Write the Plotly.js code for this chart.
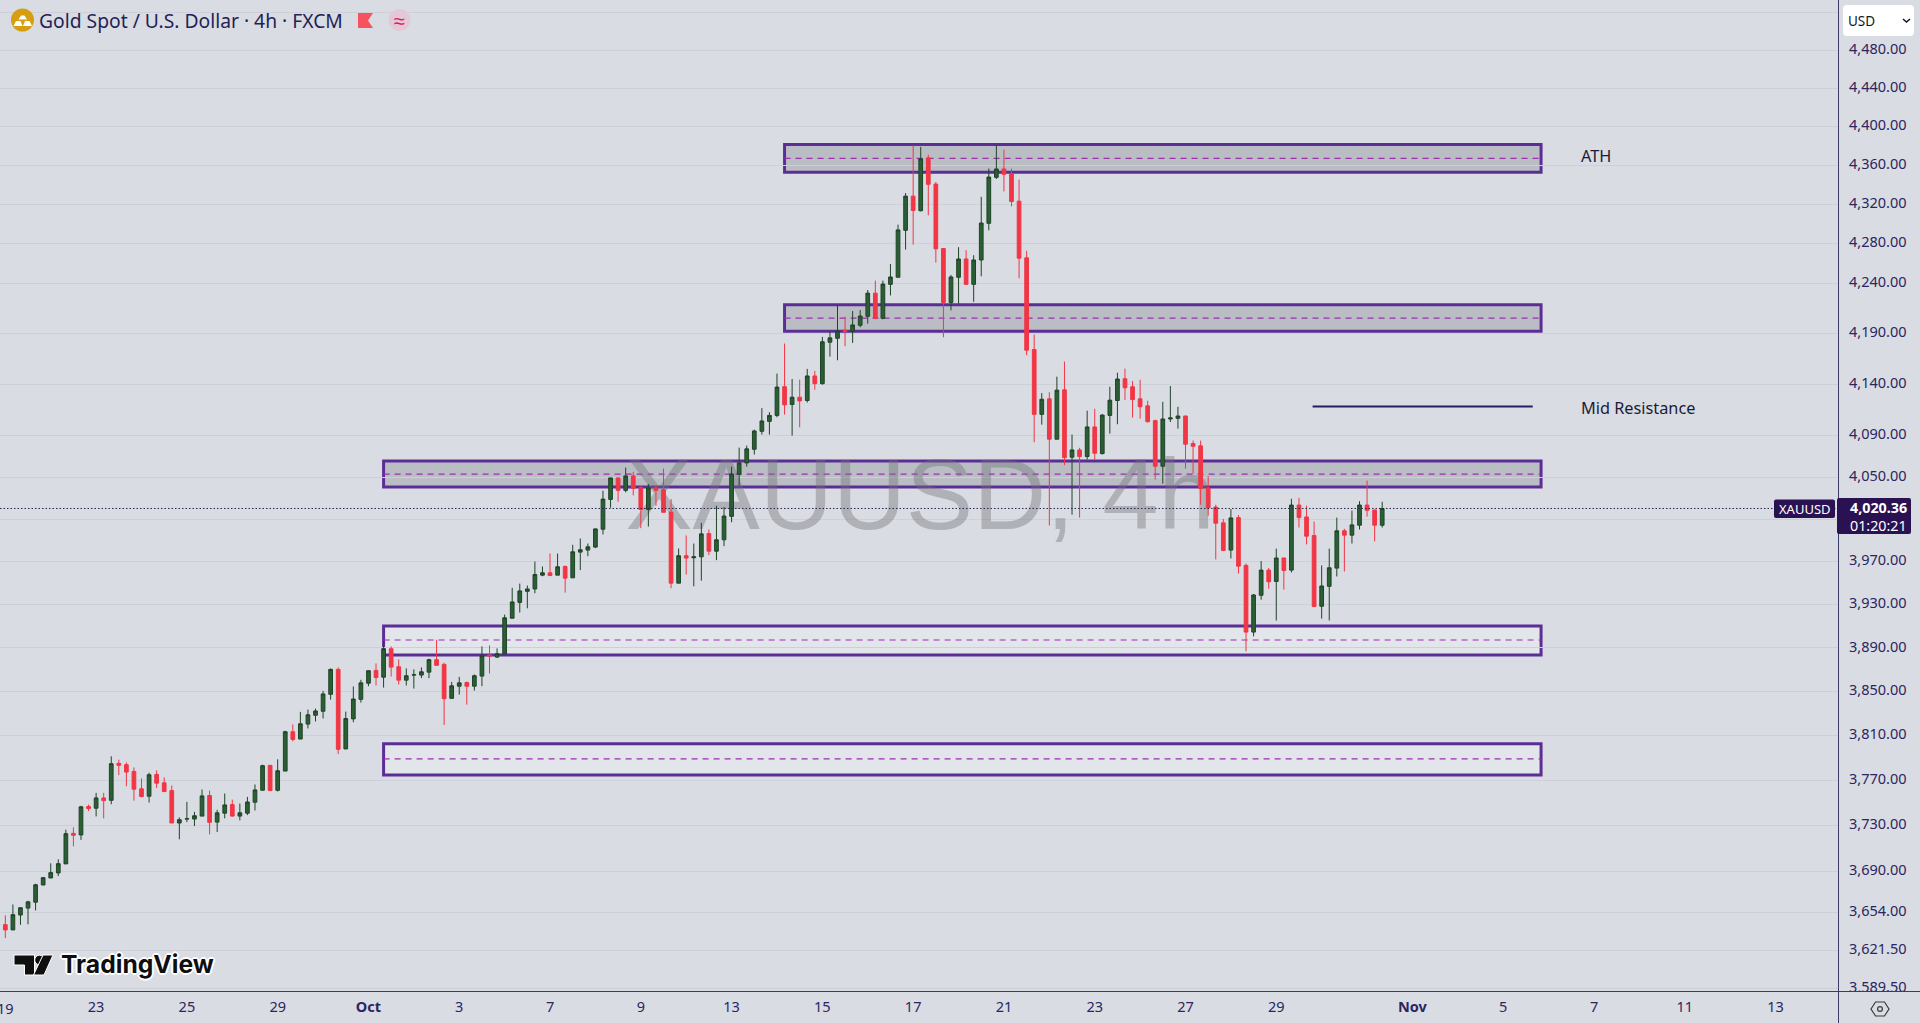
<!DOCTYPE html>
<html>
<head>
<meta charset="utf-8">
<script src="https://cdn.plot.ly/plotly-3.0.1.min.js"></script>
<style>html,body{margin:0;padding:0;background:#d9dce2;overflow:hidden}#c{width:1920px;height:1023px}</style>
</head>
<body>
<div id="c"></div>
<script>
// 4h candles, first bar is the one just before Sep 19
const barIndex = Array.from({length:184},(_,k)=>k-1);
const open = [3643.5,3643.7,3639.2,3652,3658,3663.1,3678,3684.1,3688.5,3696.4,3723.2,3721.8,3746.9,3745.4,3754.5,3752.4,3785.3,3784.1,3778.1,3762.6,3756,
3775.4,3767.9,3761,3732.3,3735.8,3735.8,3738.4,3756.6,3733.1,3741,3748.6,3738.4,3741,3750.7,3761.3,3783.5,3761.3,3778.4,3813.7,3807.1,
3820.6,3828.6,3832.2,3847.6,3870.3,3798.2,3825.3,3843,3857.7,3869.4,3863.2,3889.3,3872.7,3860.5,3865.1,3865.1,3867.8,3879.2,3874.9,3843.9,
3855,3858.3,3855,3864.2,3883.4,3881.6,3884.4,3917.4,3932.1,3942.4,3944.6,3957.5,3959.7,3957.5,3965.6,3955,3979.1,3981,3983.8,4000.7,
4029,4049.5,4037.6,4051.4,4040.2,4019.5,4039.9,4038.2,4017,3950,3975.7,3973.8,3974.7,3996.6,3980,3990.7,4012.9,4053,4063.9,4077,
4094.4,4104,4109.8,4137.8,4120.4,4127.5,4124.3,4148.3,4140.7,4181.5,4185.4,4193.3,4192.3,4198.3,4207.2,4230.3,4205.2,4239.1,4246.2,4293.6,
4328.4,4313.5,4367.7,4340.8,4275.1,4221,4246.2,4264.6,4239.1,4263.6,4300.7,4347.7,4356.3,4351.5,4323.3,4265.7,4174.3,4110.8,4125.9,4086.7,
4134.7,4069.4,4076.4,4070,4098.6,4072.9,4109.8,4124.3,4145.6,4137.7,4125.9,4119.1,4104.7,4060.7,4106.3,4107,4109.2,4082.5,4080.3,4039.8,
4021.7,4006.7,3981,4011.7,3966.6,3904.6,3938.7,3962.2,3951.6,3973.6,3962.2,4023.6,4012.3,3994.8,3928.5,3947.1,3964.1,3999.2,3995.1,4004.5,
4023.6,4018.9,4004.5];
const high = [3646,3651.7,3661.1,3658.6,3664.3,3679.1,3685,3696.9,3700.4,3726.4,3728.5,3747.5,3748.6,3759,3759,3791.6,3788.6,3786.2,3781.7,3771.8,3776.9,
3779,3772.7,3765.5,3737.2,3751,3742.2,3762,3761,3743.9,3758.4,3753,3749.5,3755.4,3766.4,3784.1,3783.5,3788.9,3814.6,3820.3,3831.6,
3833.7,3834.6,3850.7,3871.2,3872.1,3831.9,3854.7,3860.8,3869.4,3875.8,3896.3,3891.4,3879.5,3871.2,3870.3,3872.1,3880.1,3897.5,3876.4,3858.9,
3863.5,3859.2,3865.7,3891.4,3892.3,3889.6,3920.8,3945.6,3949.6,3947.8,3970.3,3965.6,3977.8,3977.8,3966.6,3986,3991.9,3987.2,4001.3,4037.3,
4049.5,4049.5,4059.4,4055.3,4041.5,4043.7,4041.8,4058.5,4029.3,3982.5,3994.8,3987.2,4006.7,4000.4,4023,4021.7,4060.3,4078.6,4080.6,4096,
4116.9,4113,4150.6,4180.2,4145.3,4144.7,4155.2,4153.2,4186.8,4192.3,4218,4206.8,4212.4,4213.4,4233.4,4242.8,4242.8,4259.6,4299.3,4331.5,
4380.8,4379.1,4371.1,4342.9,4275.5,4248.5,4276.5,4273.5,4268.4,4327.7,4356.7,4380.8,4376.3,4356.7,4345.3,4272.8,4189,4131.5,4132.4,4147.6,
4162.4,4091.2,4078.4,4114.3,4116.2,4111.1,4137.7,4151.5,4155.5,4143.3,4144.6,4124,4105.7,4123,4138.4,4118.2,4109.5,4085.4,4085.4,4051,
4023.9,4010.4,4019.8,4014.2,3968.4,3939.9,3970.7,3964.2,3982.4,3973.6,4029.6,4030.5,4023,4007.9,3966.6,3982.4,4011.7,4001.1,4018.3,4027.3,
4046.9,4019.2,4026.7];
const low = [3642,3632.1,3639.2,3643.5,3644,3656,3678,3684.1,3685.8,3696.4,3711.8,3717.4,3742.8,3738.1,3736.4,3748.9,3774.8,3764.9,3752.1,3755.1,3750.4,
3763.2,3759.6,3732.3,3718,3733.1,3729.6,3738.4,3722.3,3724.4,3736.4,3738.1,3734.6,3739.3,3743.4,3761.3,3761,3760.2,3778.4,3805,3807.1,
3816.7,3823,3825.7,3842.7,3793.7,3798.2,3822.3,3840,3855,3855.6,3853.7,3863.8,3856.5,3855.6,3852.8,3862.3,3862.3,3874,3819.7,3843.9,
3847.3,3838.2,3851,3855,3866.6,3880.7,3884.4,3917.4,3922.7,3926.6,3940.6,3956.5,3956.5,3957.5,3941.2,3955,3962.2,3975.3,3982.9,3995.7,
4021.1,4026.7,4035.7,4032.8,4001.7,4003.2,4023,4016.7,3945.3,3950,3958.1,3947.1,3952.4,3976.3,3971.6,3984.7,4007.3,4042.1,4060.3,4071.9,
4091.2,4091.2,4107.9,4110.5,4090.2,4098.2,4122.3,4134.8,4139.8,4167.3,4163.7,4177.5,4180.8,4196.3,4199.9,4204.2,4204.2,4228,4246.2,4274.1,
4279.1,4312.8,4308.8,4260.9,4186.4,4213.1,4219.7,4238.8,4221.6,4247.2,4293.6,4346,4333.2,4317.9,4245.2,4168.7,4083.8,4100.8,4004.2,4086.7,
4061.7,4014.5,4011.7,4067.1,4066.8,4071.9,4092.2,4101.2,4124.9,4107.6,4106.6,4102.8,4047.9,4044,4103.4,4097,4058.4,4053.6,4023.9,4013.5,
3972.2,3980,3973.1,3959,3886.8,3900.6,3934.6,3944.7,3915.3,3944,3960,4002.3,3986.3,3928.2,3917.1,3915.3,3956.3,3960.9,3987.2,4000.4,
4012.6,3989.2,4002.3];
const close = [3644,3639.2,3652.3,3658.3,3663.4,3678.2,3684.4,3688.8,3696.6,3722.9,3721.5,3746.6,3745.1,3754.5,3752.1,3785,3783.5,3777.5,3762.3,3755.7,3775.1,
3767.6,3760.2,3732.3,3735.2,3736.1,3738.7,3756.3,3732.9,3741.3,3748.3,3738.4,3741.3,3750.9,3761.6,3783.2,3761,3778.7,3813.7,3806.8,3820.9,
3829,3832.5,3847.9,3870.3,3797.9,3825.6,3843.3,3858,3869.1,3862.9,3889.3,3872.4,3860.5,3864.5,3865.4,3868.1,3879.2,3874,3843.6,3855.3,
3858,3855,3864.5,3882.8,3882.5,3884.7,3917.8,3932.5,3942.8,3944.6,3958.1,3959.7,3957.2,3965.3,3954.7,3979.4,3981.3,3984.1,4001,4029.3,
4049.5,4037.6,4051.4,4039.5,4019.5,4039.9,4037.6,4016.7,3950,3975.7,3973.5,3974.7,3996.3,3980,3990.7,4013.2,4053.3,4063.9,4077.4,4094.7,
4104.4,4109.8,4137.4,4120.1,4127.5,4123.9,4148.3,4140.7,4181.9,4185.8,4192.7,4192.3,4198.6,4207.5,4230.3,4205.2,4239.4,4246.5,4294,4328.4,
4313.8,4366.7,4340.5,4274.8,4221,4246.5,4264.6,4239.1,4263.6,4301,4348,4356.3,4350.8,4322.9,4265.4,4173.6,4110.8,4125.5,4086.7,4134.4,
4069,4076.4,4070,4098.6,4073.2,4110.1,4124.6,4145.3,4136.7,4125.2,4118.2,4103.7,4060.7,4106.3,4107.3,4109.2,4081.9,4080,4039.5,4021,
4006.4,3980.7,4011.4,3965.9,3904.6,3939,3962.2,3951.3,3973.6,3961.9,4023.6,4011.7,3994.1,3928.2,3947.4,3964.4,3999.2,3995.1,4004.8,4023.6,
4018.6,4004.5,4020.36];

const yTickVals = [4520,4480,4440,4400,4360,4320,4280,4240,4190,4140,4090,4050,4010,3970,3930,3890,3850,3810,3770,3730,3690,3654,3621.5,3589.5];
const yTickText = ["","4,480.00","4,440.00","4,400.00","4,360.00","4,320.00","4,280.00","4,240.00","4,190.00","4,140.00","4,090.00","4,050.00","","3,970.00","3,930.00","3,890.00","3,850.00","3,810.00","3,770.00","3,730.00","3,690.00","3,654.00","3,621.50","3,589.50"];
const xTickVals = [12,24,36,48,60,72,84,96,108,120,132,144,156,168,186,198,210,222,234];
const xTickText = ["23","25","29","<b>Oct</b>","3","7","9","13","15","17","21","23","27","29","<b>Nov</b>","5","7","11","13"];

// zones: [low, mid, high, left bar, right bar]
const zoneLow  = [4352.9,4192.4,4040.7,3883.5,3775];
const zoneMid  = [4367.3,4205.3,4053.2,3897.3,3789.3];
const zoneHigh = [4381.6,4218.6,4065.7,3910.2,3802.8];
const zoneLeft = [103,103,50,50,50];
const zoneRight = 203;
const midResistance = 4118.5;
const lastPrice = 4020.36;

const W=1920,H=1023,PW=1838,PH=991;
const yMin=3587, yMax=4533.8;
const xMin=-0.705, xMax=242.25;
const yRange=[Math.log10(yMin),Math.log10(yMax)];
// label axis sits a pixel and a half above the grid axis, as the reference labels do
const labelShift=1.5/PH*(yRange[1]-yRange[0]);
const yLabelRange=[yRange[0]-labelShift,yRange[1]-labelShift];
const px=x=>x/PW, py=y=>1-y/PH;
const poly=(pts,close)=>pts.map((p,i)=>(i?'L':'M')+px(p[0])+','+py(p[1])).join(' ')+(close?' Z':'');
const INK='#2b2560', AX='#3c3a68', PURPLE='#5b2e96';

const paperShape=(o)=>Object.assign({xref:'paper',yref:'paper',layer:'above'},o);
const rectP=(x0,y0,x1,y1,fill,extra)=>paperShape(Object.assign({type:'rect',x0:px(x0),x1:px(x1),y0:py(y0),y1:py(y1),fillcolor:fill,line:{width:0}},extra||{}));
const circP=(cx,cy,r,fill,extra)=>paperShape(Object.assign({type:'circle',x0:px(cx-r),x1:px(cx+r),y0:py(cy-r),y1:py(cy+r),fillcolor:fill,line:{width:0}},extra||{}));
const pathP=(pts,closed,fill,lineC,lw)=>paperShape({type:'path',path:poly(pts,closed),fillcolor:fill||'rgba(0,0,0,0)',line:{color:lineC||'rgba(0,0,0,0)',width:lw||0}});
const roundP=(x0,y0,x1,y1,r,fill)=>{
  const X=px,Y=py;
  return paperShape({type:'path',fillcolor:fill,line:{width:0},path:
   `M${X(x0+r)},${Y(y0)} L${X(x1-r)},${Y(y0)} Q${X(x1)},${Y(y0)} ${X(x1)},${Y(y0+r)} L${X(x1)},${Y(y1-r)} Q${X(x1)},${Y(y1)} ${X(x1-r)},${Y(y1)} L${X(x0+r)},${Y(y1)} Q${X(x0)},${Y(y1)} ${X(x0)},${Y(y1-r)} L${X(x0)},${Y(y0+r)} Q${X(x0)},${Y(y0)} ${X(x0+r)},${Y(y0)} Z`});
};

const shapes=[];
zoneLow.forEach((lo,i)=>{
  const fill=i<3?'rgba(120,123,134,0.32)':'rgba(255,255,255,0.25)';
  shapes.push({type:'rect',xref:'x2',yref:'y2',layer:'below',x0:zoneLeft[i],x1:zoneRight,y0:lo,y1:zoneHigh[i],fillcolor:fill,line:{color:PURPLE,width:3}});
  shapes.push({type:'line',xref:'x2',yref:'y2',layer:'below',x0:zoneLeft[i],x1:zoneRight,y0:zoneMid[i],y1:zoneMid[i],line:{color:'#9a2fb0',width:1.2,dash:'6px,5px'}});
});
shapes.push({type:'line',xref:'x2',yref:'y2',layer:'below',x0:172.8,x1:201.9,y0:midResistance,y1:midResistance,line:{color:'#2a1b63',width:2}});
shapes.push({type:'line',xref:'x2',yref:'y2',layer:'above',x0:xMin,x1:xMax,y0:lastPrice,y1:lastPrice,line:{color:'#2a2350',width:1,dash:'1.5px,2px'}});
// chrome
shapes.push(rectP(1838.5,991,1920,1023,'#d9dce2'));
shapes.push(rectP(0,991,1920,992,AX));
shapes.push(rectP(1838,0,1839,1023,AX));
shapes.push(roundP(1843,5,1914,36,4,'#ffffff'));
shapes.push(pathP([[1903,19],[1906.5,22],[1910,19]],false,null,'#131722',1.5));
shapes.push(roundP(1774,499.5,1835,518,2,'#2a1252'));
shapes.push(roundP(1837,498,1911,534,2,'#2a1252'));
// settings icon
shapes.push(pathP([[1871,1009],[1875.5,1002],[1884.5,1002],[1889,1009],[1884.5,1016],[1875.5,1016]],true,null,'#3a3a3a',1.2));
shapes.push(circP(1880,1009,2.4,'rgba(0,0,0,0)',{line:{color:'#3a3a3a',width:1.2}}));
// header icons
shapes.push(circP(22.5,20,11.5,'#d79e10'));
[[[18.5,19.5],[21,15.5],[24.5,15.5],[27,19.5]],[[13.5,26],[16,21],[20.5,21],[22.5,26]],[[23,26],[25,21],[29.5,21],[32,26]]].forEach(p=>shapes.push(pathP(p,true,'#ffffff')));
shapes.push(pathP([[358,13],[373,13],[368,20.5],[373,28],[358,28]],true,'#f7525f'));
shapes.push(circP(399.5,20,11,'#e5c8d6'));
// logo
shapes.push(pathP([[14,955],[34.5,955],[34.5,975],[24.5,975],[24.5,965],[14,965]],true,'#0f0f0f','#ffffff',1));
shapes.push(circP(39.5,960,4.8,'#0f0f0f',{line:{color:'#ffffff',width:1}}));
shapes.push(pathP([[43,955],[53,955],[44,975],[33.5,975]],true,'#0f0f0f','#ffffff',1));

const FONT='"Noto Sans", sans-serif';
const noteP=(x,y,text,size,color,extra)=>Object.assign({xref:'paper',yref:'paper',x:px(x),y:py(y),text,showarrow:false,xanchor:'left',yanchor:'middle',font:{family:FONT,size,color},borderpad:0,borderwidth:0},extra||{});
const halo='1px 1px 0 #fff,-1px -1px 0 #fff,1px -1px 0 #fff,-1px 1px 0 #fff,0 2px 0 #fff,0 -2px 0 #fff,2px 0 0 #fff,-2px 0 0 #fff';

const annotations=[
  noteP(38.5,20,'Gold Spot / U.S. Dollar · 4h · FXCM',19.3,'#241f58'),
  noteP(399.5,20,'≈',20,'#d81b60',{xanchor:'center'}),
  noteP(1848,21,'USD',13.5,'#131722'),
  noteP(1581,156.5,'ATH',16.3,'#1b1b3a'),
  noteP(1581,407.5,'Mid Resistance',16.3,'#1b1b3a'),
  noteP(1804.5,509,'XAUUSD',13,'#ffffff',{xanchor:'center'}),
  noteP(1878,507,'<b>4,020.36</b>',14.3,'#ffffff',{xanchor:'center'}),
  noteP(1878,525,'01:20:21',14.3,'#ffffff',{xanchor:'center'}),
  noteP(5.5,1008,'19',14.5,INK,{xanchor:'center'}),
  noteP(61,964,'<b>TradingView</b>',24.7,'#0f0f0f',{font:{family:'Inter, sans-serif',size:24.7,color:'#0f0f0f',shadow:halo}}),
];

const watermark={type:'scatter',mode:'text',x:[120.9],y:[4023.9],text:['XAUUSD, 4h'],textposition:'middle center',
  textfont:{family:'"Liberation Sans", Arial, sans-serif',size:101,color:'rgba(112,113,121,0.40)'},hoverinfo:'skip',showlegend:false,xaxis:'x',yaxis:'y'};
const candles={type:'candlestick',x:barIndex,open,high,low,close,xaxis:'x2',yaxis:'y2',width:0.57,showlegend:false,hoverinfo:'skip',
  increasing:{line:{color:'#1f4426',width:1},fillcolor:'#2a5f35'},
  decreasing:{line:{color:'#f23645',width:1},fillcolor:'#f23645'}};

const layout={
  width:W,height:H,margin:{l:0,r:82,t:0,b:32,pad:0},
  paper_bgcolor:'#d9dce2',plot_bgcolor:'#d9dce2',showlegend:false,dragmode:false,
  xaxis:{type:'linear',range:[xMin,xMax],tickmode:'array',tickvals:xTickVals,ticktext:xTickText,showgrid:false,zeroline:false,ticks:'',showline:false,
    tickfont:{family:FONT,size:14.5,color:INK},rangeslider:{visible:false},ticklabelstandoff:5},
  yaxis:{type:'log',side:'right',range:yLabelRange,tickmode:'array',tickvals:yTickVals,ticktext:yTickText,showgrid:false,zeroline:false,ticks:'',showline:false,
    tickfont:{family:FONT,size:14.5,color:INK},ticklabelstandoff:10},
  xaxis2:{type:'linear',overlaying:'x',range:[xMin,xMax],visible:false,rangeslider:{visible:false}},
  yaxis2:{type:'log',overlaying:'y',side:'right',range:yRange,visible:true,tickmode:'array',tickvals:yTickVals,showticklabels:false,ticks:'',showline:false,zeroline:false,showgrid:true,gridcolor:'#cdd0d7',gridwidth:1},
  shapes,annotations
};
Plotly.newPlot('c',[watermark,candles],layout,{staticPlot:true,displayModeBar:false});
</script>
</body>
</html>
